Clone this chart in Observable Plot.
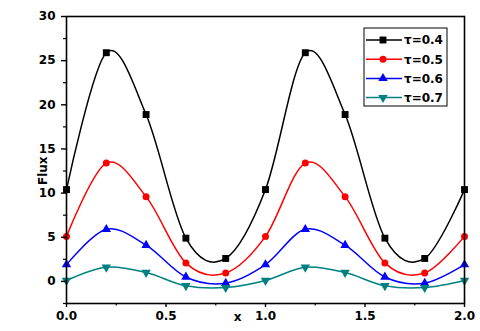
<!DOCTYPE html>
<html>
<head>
<meta charset="utf-8">
<script src="https://cdn.jsdelivr.net/npm/d3@7"></script>
<script src="https://cdn.jsdelivr.net/npm/@observablehq/plot@0.6"></script>
<style>
  html, body { margin: 0; padding: 0; background: #fff; }
  #chart { width: 480px; height: 331px; }
  #chart svg text { font-family: "DejaVu Sans", sans-serif !important; font-weight: bold !important; font-size: 12px !important; }
</style>
</head>
<body>
<div id="chart"></div>
<script>
// ---- data ----
const xs = [0, 0.2, 0.4, 0.6, 0.8, 1.0, 1.2, 1.4, 1.6, 1.8, 2.0];
const seriesNames = ["τ=0.4", "τ=0.5", "τ=0.6", "τ=0.7"];
const flux04 = [10.4, 25.9, 18.9, 4.9, 2.6, 10.4, 25.9, 18.9, 4.9, 2.6, 10.4];
const flux05 = [5.1, 13.4, 9.6, 2.1, 0.95, 5.1, 13.4, 9.6, 2.1, 0.95, 5.1];
const flux06 = [1.9, 5.9, 4.1, 0.5, -0.2, 1.9, 5.9, 4.1, 0.5, -0.2, 1.9];
const flux07 = [0.1, 1.6, 1.0, -0.5, -0.7, 0.1, 1.6, 1.0, -0.5, -0.7, 0.1];
const xTicks = [0, 0.5, 1.0, 1.5, 2.0];
const xMinor = [0.25, 0.75, 1.25, 1.75];
const yTicks = [0, 5, 10, 15, 20, 25, 30];
const yMinor = [-2.5, 2.5, 7.5, 12.5, 17.5, 22.5, 27.5];

// ---- styles ----
const colors = ["#000000", "#ff0000", "#0000ff", "#008080"];
const triDown = {
  draw(context, size) {
    const s = Math.sqrt(4 * size / Math.sqrt(3));
    const h = s * Math.sqrt(3) / 2;
    context.moveTo(-s / 2, -h / 3);
    context.lineTo(s / 2, -h / 3);
    context.lineTo(0, 2 * h / 3);
    context.closePath();
  }
};
const symbols = ["square", "circle", "triangle", triDown];
const d3symbols = [d3.symbolSquare, d3.symbolCircle, d3.symbolTriangle, triDown];
const radii = [3.9, 3.5, 3.5, 3.5];

const allSeries = [flux04, flux05, flux06, flux07];
const rows = [];
allSeries.forEach((vals, si) => {
  vals.forEach((v, i) => rows.push({x: xs[i], y: v, s: seriesNames[si], si}));
});

const marks = [];
seriesNames.forEach((name, si) => {
  const d = rows.filter(r => r.si === si);
  marks.push(Plot.line(d, {x: "x", y: "y", stroke: colors[si], strokeWidth: 1.5, curve: "cardinal"}));
  marks.push(Plot.dot(d, {x: "x", y: "y", fill: colors[si], stroke: "none", symbol: () => symbols[si], r: radii[si]}));
});

const chart = Plot.plot({
  width: 480,
  height: 331,
  marginLeft: 66,
  marginRight: 16,
  marginTop: 16,
  marginBottom: 28,
  style: {background: "#fff", color: "#000"},
  x: {domain: [0, 2]},
  y: {domain: [-2.5, 30]},
  marks: [
    ...marks,
    Plot.frame({stroke: "#000", strokeWidth: 1.6}),
    Plot.axisX(xTicks, {tickSize: 4, tickPadding: 4, tickFormat: d3.format(".1f"), stroke: "#000", strokeWidth: 1.4, label: null}),
    Plot.axisX(xMinor, {tickSize: 2.5, text: null, stroke: "#000", strokeWidth: 1.2, label: null}),
    Plot.axisY(yTicks, {tickSize: 5, tickPadding: 6, tickFormat: d => String(d), stroke: "#000", strokeWidth: 1.4, label: null}),
    Plot.axisY(yMinor, {tickSize: 3, text: null, stroke: "#000", strokeWidth: 1.2, label: null}),
    Plot.text(["x"], {frameAnchor: "bottom", dy: 14, dx: -28, fill: "#000", lineAnchor: "middle"}),
    Plot.text(["Flux"], {frameAnchor: "left", dx: -23, dy: 25, rotate: -90, fill: "#000", lineAnchor: "middle"})
  ]
});

document.getElementById("chart").appendChild(chart);

// ---- legend (inside plot area, top right) ----
const svg = d3.select(chart);
const lg = svg.append("g").attr("transform", "translate(364,28)");
lg.append("rect").attr("x", 0).attr("y", 0).attr("width", 83).attr("height", 78)
  .attr("fill", "#fff").attr("stroke", "#000").attr("stroke-width", 1);
seriesNames.forEach((name, si) => {
  const cy = 12 + si * 19.2;
  lg.append("line").attr("x1", 2).attr("x2", 38).attr("y1", cy).attr("y2", cy)
    .attr("stroke", colors[si]).attr("stroke-width", 1.5);
  const sym = d3.symbol(d3symbols[si], Math.PI * radii[si] * radii[si]);
  lg.append("path").attr("d", sym()).attr("transform", `translate(19,${cy})`).attr("fill", colors[si]);
  lg.append("text").attr("x", 40).attr("y", cy).attr("dy", "0.36em")
    .attr("text-anchor", "start")
    .attr("fill", "#000")
    .text(name);
});
</script>
</body>
</html>
